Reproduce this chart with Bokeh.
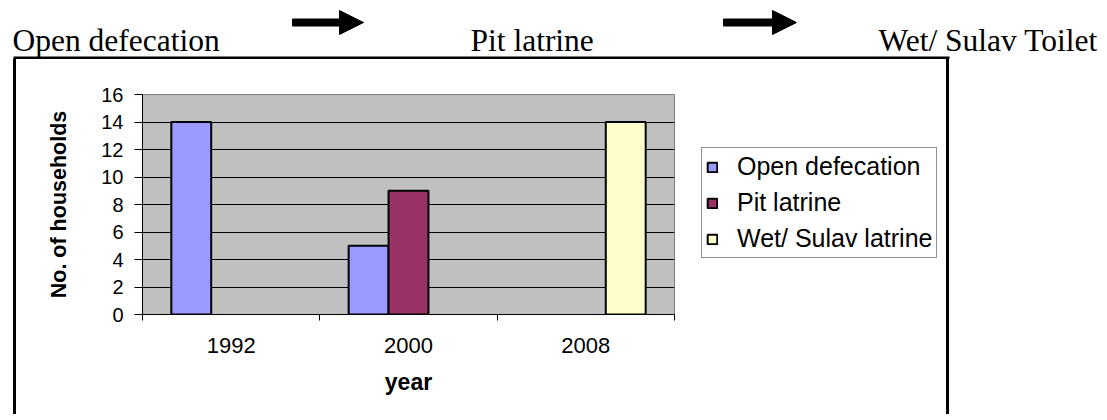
import numpy as np
from bokeh.plotting import figure
from bokeh.layouts import column, row
from bokeh.models import (Range1d, FixedTicker, Legend, LegendItem, ColumnDataSource,
                          Spacer)
from bokeh.core.properties import value
from bokeh.embed import file_html
from bokeh.resources import INLINE

# ---- data ----
years = ["1992", "2000", "2008"]
series_names = ["Open defecation", "Pit latrine", "Wet/ Sulav latrine"]
open_defecation = [14, 5, 0]
pit_latrine = [0, 9, 0]
wet_sulav_latrine = [0, 0, 14]
series_colors = ["#9999FF", "#993366", "#FFFFCC"]
y_ticks = [0, 2, 4, 6, 8, 10, 12, 14, 16]
header_steps = ["Open defecation", "Pit latrine", "Wet/ Sulav Toilet"]

# ---- layout geometry (picture pixels) ----
TOTAL_W = 1100
HEAD_H = 59                      # header incl. top line of the chart box
BOX_L, BOX_R, BOX_T, LINE = 13, 946, 56, 3
MAIN_H = 355
MAIN_X0, MAIN_W = BOX_L + LINE, 674          # main chart figure: x 16 .. 690
LEG_X0 = MAIN_X0 + MAIN_W                    # legend figure: x 690 .. 946
LEG_W = BOX_R - LEG_X0
F_LEFT, F_RIGHT, F_TOP, F_BOTTOM = 142, 674, 94, 314   # plot area (picture px)


def strip_fig(w, h, x0, y_top):
    """Figure whose frame is the whole canvas, in picture pixel coordinates."""
    f = figure(width=w, height=h, toolbar_location=None, output_backend="svg",
               min_border=0, x_axis_type=None, y_axis_type=None,
               x_range=Range1d(x0, x0 + w), y_range=Range1d(y_top + h, y_top))
    f.background_fill_color = "white"
    f.border_fill_color = "white"
    f.outline_line_color = None
    f.xgrid.visible = False
    f.ygrid.visible = False
    return f


# ---- header: process sequence with arrows, plus top edge of the box ----
head = strip_fig(TOTAL_W, HEAD_H, 0, 0)
head.text(x=[12, 470, 878], y=[40, 40, 40], text=header_steps,
          text_font=value("Liberation Serif"), text_font_size=value("31.5px"),
          text_color="black", text_align="left", text_baseline="alphabetic")
arrow_xs, arrow_ys = [], []
for (x0, xh, xt) in [(292, 339, 363), (723, 772, 796)]:
    arrow_xs.append([x0, xh, xh, xt, xh, xh, x0])
    arrow_ys.append([18.5, 18.5, 10, 22, 34, 25.5, 25.5])
head.patches(xs=arrow_xs, ys=arrow_ys, fill_color="black", line_color="black",
             line_width=1)
head.quad(left=[BOX_L], right=[BOX_R + LINE], top=[BOX_T], bottom=[BOX_T + LINE],
          fill_color="black", line_color=None)

# ---- main chart ----
p = figure(width=MAIN_W, height=MAIN_H, x_range=Range1d(-0.5, 2.5),
           y_range=Range1d(0, 16), output_backend="svg", toolbar_location=None,
           min_border_left=F_LEFT - MAIN_X0,
           min_border_right=MAIN_X0 + MAIN_W - F_RIGHT,
           min_border_top=F_TOP - HEAD_H,
           min_border_bottom=HEAD_H + MAIN_H - F_BOTTOM)
p.background_fill_color = "#C0C0C0"
p.border_fill_color = "white"
p.outline_line_color = "#808080"
p.outline_line_width = 1

# legend figure (its frame lines up with the plot area rows: y 94..314)
leg = strip_fig(LEG_W, MAIN_H, LEG_X0, HEAD_H)
# ranges that put the legend's proxy series behind the (opaque) legend box
leg.extra_x_ranges = {"hx": Range1d(-2.3, 5.38)}
leg.extra_y_ranges = {"hy": Range1d(-23.52, 38.08)}

bar_w = 0.225
offsets = [-bar_w, 0.0, bar_w]
all_series = [open_defecation, pit_latrine, wet_sulav_latrine]
items = []
for name, vals, col, off in zip(series_names, all_series, series_colors, offsets):
    idx = [i for i, v in enumerate(vals) if v > 0]
    src = ColumnDataSource(dict(x=[i + off for i in idx], top=[vals[i] for i in idx]))
    p.vbar(x="x", top="top", width=bar_w, source=src, fill_color=col,
           line_color="black", line_width=2)
    r = leg.vbar(x="x", top="top", width=bar_w, source=src, fill_color=col,
                 line_color="black", line_width=2,
                 x_range_name="hx", y_range_name="hy")
    items.append(LegendItem(label=name, renderers=[r]))

xa = p.xaxis[0]
xa.ticker = FixedTicker(ticks=list(range(len(years))),
                        minor_ticks=[i - 0.5 for i in range(len(years) + 1)])
xa.major_label_overrides = {i: y for i, y in enumerate(years)}
xa.major_tick_out = 0
xa.major_tick_in = 0
xa.minor_tick_out = 6
xa.minor_tick_in = 0
xa.minor_tick_line_color = "black"
xa.axis_line_color = "black"
xa.major_label_text_font = "Liberation Sans"
xa.major_label_text_font_size = "22px"
xa.major_label_text_color = "black"
xa.major_label_standoff = 17
xa.axis_label = "year"
xa.axis_label_text_font = "Liberation Sans"
xa.axis_label_text_font_style = "bold"
xa.axis_label_text_font_size = "23px"
xa.axis_label_text_color = "black"
xa.axis_label_standoff = 13

ya = p.yaxis[0]
ya.ticker = FixedTicker(ticks=y_ticks)
ya.major_tick_out = 8
ya.major_tick_in = 0
ya.minor_tick_line_color = None
ya.axis_line_color = "black"
ya.major_tick_line_color = "black"
ya.major_label_text_font = "Liberation Sans"
ya.major_label_text_font_size = "20px"
ya.major_label_text_color = "black"
ya.major_label_standoff = 11
ya.axis_label = "No. of households"
ya.axis_label_text_font = "Liberation Sans"
ya.axis_label_text_font_style = "bold"
ya.axis_label_text_font_size = "21.5px"
ya.axis_label_text_color = "black"
ya.axis_label_standoff = 27

p.xgrid.grid_line_color = None
p.ygrid.ticker = FixedTicker(ticks=y_ticks[:-1])
p.ygrid.grid_line_color = "black"
p.ygrid.grid_line_width = 1

legend = Legend(items=items, location=(701 - LEG_X0, F_BOTTOM - 258),
                label_text_font="Liberation Sans", label_text_font_size="25px",
                label_text_color="black", glyph_width=12, glyph_height=12,
                label_standoff=19, spacing=7, padding=4, label_height=26,
                border_line_color="#222222", border_line_width=1,
                background_fill_color="white", background_fill_alpha=1)
leg.add_layout(legend)

# ---- vertical edges of the chart box ----
gap_left = Spacer(width=BOX_L, height=MAIN_H)
edge_left = Spacer(width=LINE, height=MAIN_H, styles={"background-color": "black"})
edge_right = Spacer(width=LINE, height=MAIN_H, styles={"background-color": "black"})
gap_right = Spacer(width=TOTAL_W - BOX_R - LINE, height=MAIN_H)

layout = column(head, row(gap_left, edge_left, p, leg, edge_right, gap_right, spacing=0),
                spacing=0)

open("out.html", "w").write(file_html(layout, INLINE))
